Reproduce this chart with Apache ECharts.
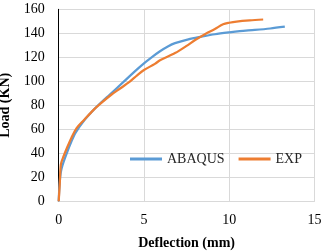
<!DOCTYPE html>
<html>
<head>
<meta charset="utf-8">
<script src="https://cdn.jsdelivr.net/npm/echarts@6/dist/echarts.min.js"></script>
<style>html,body{margin:0;padding:0;background:#fff}#c{width:324px;height:251px}</style>
</head>
<body>
<div id="c"></div>
<script>
const seriesNames = ['ABAQUS', 'EXP'];
const abaqus = [[0,0],[0.05,14],[0.12,24],[0.22,30],[0.47,40],[0.75,50],[1.0,57.5],[1.5,67.5],[2.0,75.5],[2.5,82.5],[3.0,89],[3.8,99.5],[4.4,107.5],[5.0,115],[5.45,120],[5.94,125],[6.4,129],[6.82,131.8],[7.6,135],[8.38,137.2],[9.16,139.2],[10.0,140.8],[10.62,141.8],[11.5,142.8],[12.4,144],[13.26,145.5]];
const exp = [[0,0],[0.06,14],[0.13,31],[0.3,38],[0.47,44],[0.75,53],[1.05,61],[1.5,68],[2.03,76],[2.5,82],[3.1,89],[3.6,94],[4.15,99.5],[4.6,105],[5.0,109.4],[5.64,114.5],[5.94,117.5],[6.82,123.5],[7.5,129.5],[8.0,134.4],[8.6,139.5],[9.16,143.6],[9.64,147.5],[10.0,148.8],[10.43,149.8],[11.2,150.8],[11.99,151.5]];
const xTitle = 'Deflection (mm)';
const yTitle = 'Load (KN)';

const font = '"Liberation Serif", "Times New Roman", serif';
const chart = echarts.init(document.getElementById('c'), null, {renderer: 'canvas'});
chart.setOption({
  animation: false,
  backgroundColor: '#fff',
  grid: {left: 58.7, right: 9.5, top: 9.3, bottom: 49.7, containLabel: false, outerBoundsMode: 'none'},
  legend: {
    left: 125, top: 147,
    icon: 'rect',
    itemWidth: 32, itemHeight: 3, itemGap: 14,
    textStyle: {fontFamily: font, fontSize: 14, color: '#262626'},
    data: seriesNames
  },
  xAxis: {
    type: 'value', min: 0, max: 15, interval: 5,
    name: xTitle, nameLocation: 'middle', nameGap: 35,
    nameTextStyle: {fontFamily: font, fontSize: 14, fontWeight: 'bold', color: '#000'},
    axisLine: {show: true, lineStyle: {color: '#d9d9d9', width: 1}},
    axisTick: {show: false},
    axisLabel: {fontFamily: font, fontSize: 14, color: '#000', margin: 12},
    splitLine: {show: true, lineStyle: {color: '#d9d9d9', width: 1}}
  },
  yAxis: {
    type: 'value', min: 0, max: 160, interval: 20,
    name: yTitle, nameLocation: 'middle', nameGap: 44, nameRotate: 90,
    nameTextStyle: {fontFamily: font, fontSize: 14, fontWeight: 'bold', color: '#000'},
    axisLine: {show: true, lineStyle: {color: '#000', width: 1}},
    axisTick: {show: false},
    axisLabel: {fontFamily: font, fontSize: 14, color: '#000', margin: 14},
    splitLine: {show: true, lineStyle: {color: '#d9d9d9', width: 1}}
  },
  series: [
    {name: seriesNames[0], type: 'line', data: abaqus, symbol: 'none', smooth: 0.3,
     lineStyle: {color: '#5B9BD5', width: 2.25}, itemStyle: {color: '#5B9BD5'}, z: 3},
    {name: seriesNames[1], type: 'line', data: exp, symbol: 'none', smooth: 0.3,
     lineStyle: {color: '#ED7D31', width: 2.25}, itemStyle: {color: '#ED7D31'}, z: 4}
  ]
});
</script>
</body>
</html>
